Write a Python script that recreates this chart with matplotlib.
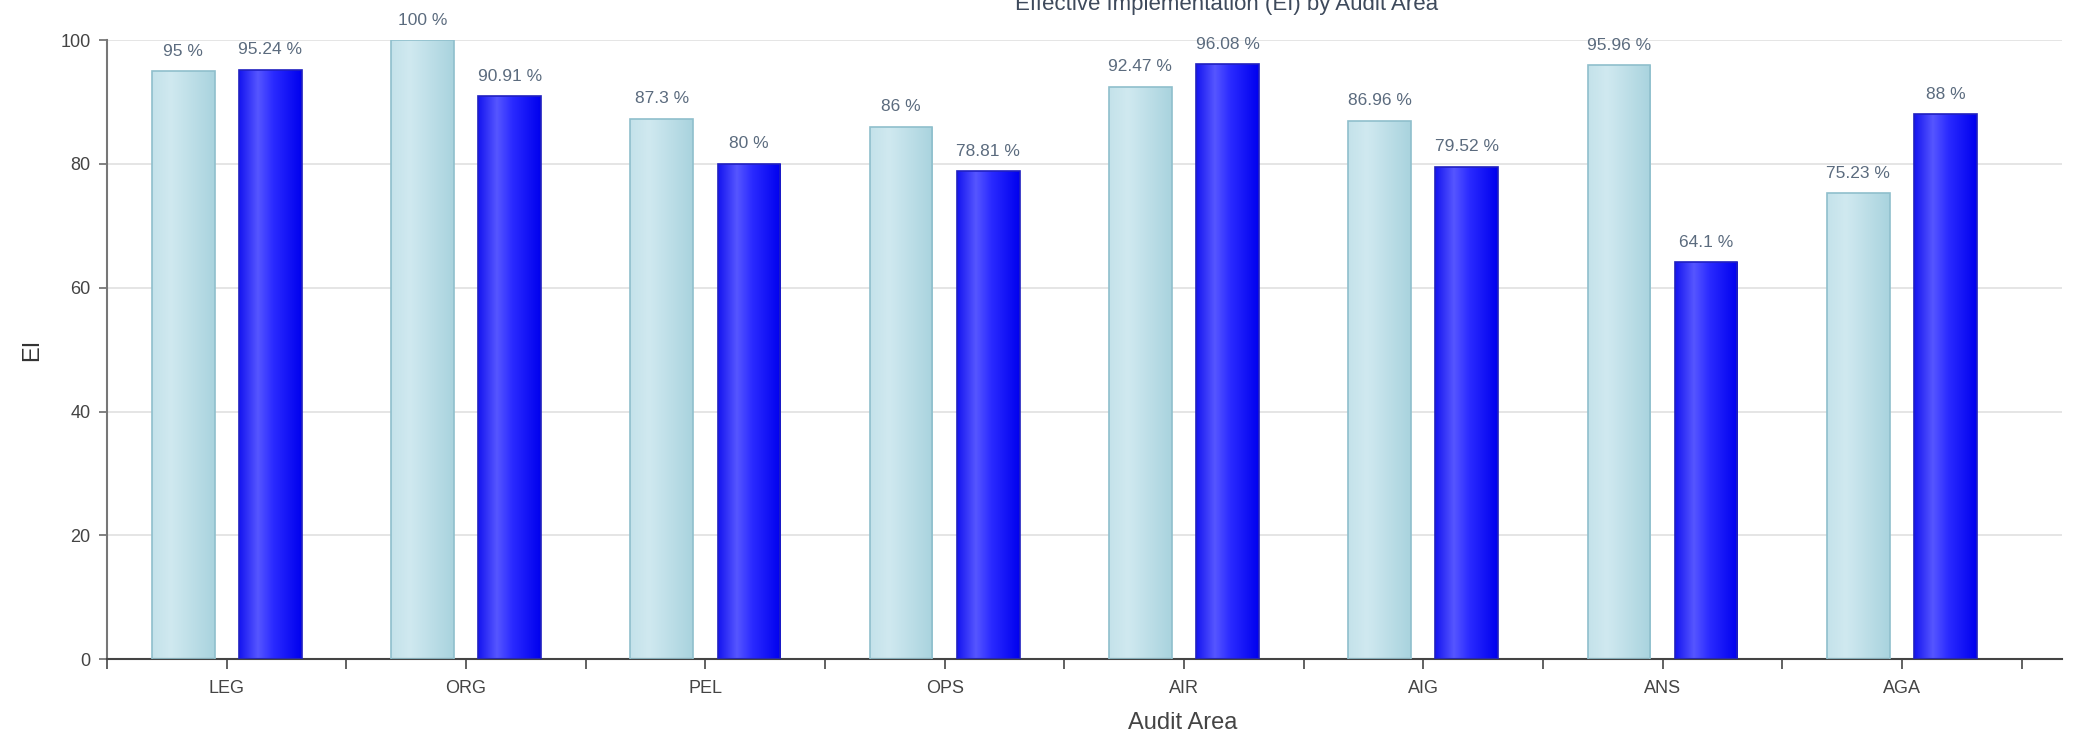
import matplotlib.pyplot as plt
import numpy as np
from matplotlib.colors import LinearSegmentedColormap

plt.rcParams['font.family'] = ['Liberation Sans', 'DejaVu Sans']

areas = ['LEG', 'ORG', 'PEL', 'OPS', 'AIR', 'AIG', 'ANS', 'AGA']
ei_first = [95, 100, 87.3, 86, 92.47, 86.96, 95.96, 75.23]
ei_second = [95.24, 90.91, 80, 78.81, 96.08, 79.52, 64.1, 88]


def shade(ax, bars, cmap):
    # horizontal gradient painted inside each bar
    grad = np.linspace(0, 1, 256).reshape(1, -1)
    for b in bars:
        x0, w, h = b.get_x(), b.get_width(), b.get_height()
        im = ax.imshow(grad, cmap=cmap, aspect='auto', origin='lower',
                       extent=[x0, x0 + w, 0, h], zorder=2)
        im.set_clip_path(b)


def main():
    fig = plt.figure(figsize=(21, 7.3), dpi=100)
    ax = fig.add_axes([0.051, 0.097, 0.931, 0.848])

    x = np.arange(len(areas))
    off, w = 0.182, 0.262

    light = ax.bar(x - off, ei_first, w, color='#bfe0e9', edgecolor='#8fbfcc',
                   linewidth=1.2, zorder=3)
    dark = ax.bar(x + off, ei_second, w, color='#1010f5', edgecolor='#2020c0',
                  linewidth=1.2, zorder=3)
    for b in list(light) + list(dark):
        b.set_facecolor('none')

    cm_light = LinearSegmentedColormap.from_list(
        'lb', [(0, '#c4e2ea'), (0.3, '#d0e9f0'), (1, '#a9d3de')])
    cm_dark = LinearSegmentedColormap.from_list(
        'db', [(0, '#1414f0'), (0.3, '#5656ff'), (0.55, '#2a2aff'), (1, '#0000ee')])
    shade(ax, light, cm_light)
    shade(ax, dark, cm_dark)

    for bars, vals in ((light, ei_first), (dark, ei_second)):
        for b, v in zip(bars, vals):
            ax.annotate(f"{v:g} %", (b.get_x() + b.get_width() / 2, v),
                        xytext=(0, 9), textcoords='offset points',
                        ha='center', va='bottom', fontsize=12.5,
                        color='#5b6b7e', clip_on=False, annotation_clip=False)

    ax.set_xlim(-0.5, 7.67)
    ax.set_ylim(0, 100)
    ax.set_yticks(np.arange(0, 101, 20))
    ax.set_xticks(x)
    ax.set_xticklabels(areas)
    ax.set_xticks(np.arange(-0.5, 8, 1), minor=True)
    ax.tick_params(axis='x', which='both', length=7, width=1.3, color='#555555',
                   labelsize=13, labelcolor='#444444', pad=8)
    ax.tick_params(axis='y', length=6, width=1.3, color='#777777',
                   labelsize=13, labelcolor='#444444', pad=6)
    ax.grid(axis='y', color='#e3e3e3', linewidth=1.3, zorder=0)
    ax.set_axisbelow(True)

    for s in ('top', 'right'):
        ax.spines[s].set_visible(False)
    ax.spines['left'].set_color('#777777')
    ax.spines['left'].set_linewidth(1.5)
    ax.spines['bottom'].set_color('#444444')
    ax.spines['bottom'].set_linewidth(1.5)

    ax.set_ylabel('EI', fontsize=17, color='#333333', labelpad=12)
    ax.set_xlabel('Audit Area', fontsize=17, color='#444444')
    ax.xaxis.set_label_coords(0.55, -0.085)

    fig.text(0.584, 0.994, 'Effective Implementation (EI) by Audit Area',
             ha='center', va='center', fontsize=16, color='#3e4a5c')

    fig.savefig('out.png', dpi=100)


if __name__ == "__main__":
    main()
